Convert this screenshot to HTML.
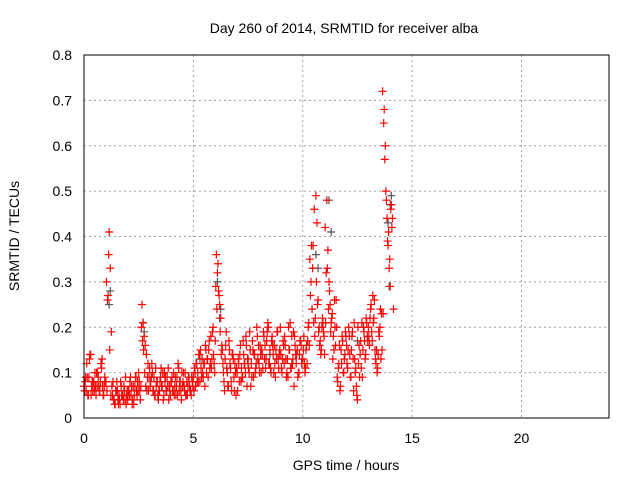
<!DOCTYPE html>
<html><head><meta charset="utf-8"><style>
body{margin:0;background:#fff;}
svg{display:block;font-family:"Liberation Sans",sans-serif;}
</style></head><body>
<svg id="chart" width="640" height="480">
<text x="344" y="33" font-size="14" text-anchor="middle">Day 260 of 2014, SRMTID for receiver alba</text>
<text x="346" y="470" font-size="14" text-anchor="middle">GPS time / hours</text>
<text transform="translate(19,236) rotate(-90)" font-size="14" text-anchor="middle">SRMTID / TECUs</text>
<g id="grid"></g><g id="ticks"></g><g id="gray"></g><g id="red"></g>
<rect x="84" y="55" width="525" height="363" fill="none" stroke="#000" stroke-width="1"/>
</svg>
<script>
const xTicks=[0,5,10,15,20];
const yTicks=[0,0.1,0.2,0.3,0.4,0.5,0.6,0.7,0.8];
const yTickLabels=["0","0.1","0.2","0.3","0.4","0.5","0.6","0.7","0.8"];
const redValuesA=[.07,.08,.06,.09,.05,.13,.14,.07,.06,.08,.10,.05,.07,.09,.06,.08,.11,.07,.05,.09,
.08,.06,.27,.41,.33,.19,.05,.04,.03,.06,.08,.04,.05,.03,.07,.05,.04,.06,.09,.05,
.04,.06,.08,.05,.03,.07,.05,.09,.06,.08,.10,.06,.07,.25,.21,.18,.16,.14,.09,.06,
.11,.08,.12,.06,.09,.05,.07,.08,.04,.06,.09,.07,.10,.05,.08,.06,.09,.11,.07,.05,
.08,.06,.10,.07,.05,.09,.12,.06,.08,.04,.07,.10,.06,.05,.08,.07,.09,.06,.05,.08,
.09,.11,.07,.12,.10,.14,.08,.11,.13,.09,.12,.16,.10,.13,.15,.11,.18,.13,.20,.12,
.17,.36,.32,.28,.25,.22,.16,.12,.08,.13,.19,.10,.07,.15,.11,.06,.14,.09,.12,.05,
.10,.13,.08,.16,.11,.09,.14,.12,.18,.07,.13,.10,.15,.12,.17,.09,.14,.11,.20,.13,
.12,.16,.10,.14,.19,.13,.11,.17,.21,.12,.15,.10,.18,.14,.16,.09,.13,.19,.11,.15,
.14,.10,.17,.12,.16,.09,.13,.20,.15,.11,.18,.13,.07,.16,.12,.15,.10,.14,.17,.12,
.13,.18,.10,.15,.12,.20,.16,.27,.38,.33,.21,.18,.49,.43,.26,.20,.17,.15,.22,.19,
.14,.21,.48,.37,.30,.25,.21,.23,.18,.26,.16,.20,.08,.12,.06,.15,.18,.10,.13,.19,
.16,.11,.20,.14,.09,.18,.13,.21,.10,.07,.04,.12,.09,.17,.21,.15,.19,.13,.22,.18,
.20,.16,.24,.19,.27,.22,.15,.12,.10,.14,.18,.24,.23,.72,.65,.57,.50,.44,.38,.33,
.29,.47,.44,.24];
const redValuesB=[.06,.12,.09,.05,.08,.07,.10,.06,.13,.07,
.30,.36,.05,.08,.03,.06,.04,.05,.07,.03,
.06,.09,.04,.07,.05,.08,.20,.15,.07,.12,
.07,.10,.05,.08,.06,.11,.04,.09,.07,.06,
.09,.05,.07,.11,.06,.08,.10,.05,.07,.09,
.06,.12,.08,.15,.10,.07,.13,.17,.11,.14,
.29,.34,.19,.15,.06,.11,.17,.08,.13,.10,
.06,.14,.09,.12,.16,.11,.07,.15,.10,.18,
.10,.15,.18,.13,.20,.11,.16,.12,.19,.14,
.11,.16,.13,.09,.21,.12,.18,.14,.10,.16,
.15,.11,.17,.35,.24,.46,.30,.19,.14,.21,
.42,.33,.28,.22,.15,.26,.11,.07,.17,.14,
.12,.18,.15,.06,.11,.20,.14,.09,.17,.21,
.18,.25,.21,.13,.11,.20,.15,.68,.48,.41,
.46];
const redValuesC=[.09,.05,.14,.08,.06,.10,.07,.12,.05,.08,
.26,.15,.07,.04,.06,.03,.08,.05,.04,.06,
.05,.07,.03,.09,.06,.04,.17,.10,.06,.09,
.09,.06,.11,.05,.08,.07,.10,.06,.04,.08,
.06,.09,.05,.08,.10,.07,.05,.09,.06,.07,
.10,.08,.14,.09,.12,.15,.09,.12,.19,.10,
.24,.27,.14,.10,.16,.07,.12,.14,.06,.11,
.12,.08,.17,.10,.13,.19,.09,.14,.12,.16,
.14,.11,.16,.19,.12,.17,.10,.15,.13,.20,
.13,.18,.10,.15,.11,.19,.14,.09,.17,.13,
.12,.16,.21,.30,.38,.22,.25,.16,.20,.18,
.32,.24,.19,.13,.20,.09,.16,.12,.10,.18,
.15,.09,.19,.13,.05,.16,.11,.20,.14,.17,
.22,.17,.26,.15,.19,.13,.23,.60,.39,.35,
.42];
const grayTimes=[1.15,1.2,2.7,2.75,6.1,6.2,6.25,10.6,10.7,11.2,11.3,13.9,14.0,14.05,13.95,3.5,5.3,8.5,9.5,12.5,0.4,7.5];
const grayValues=[.25,.28,.21,.19,.30,.22,.24,.36,.33,.48,.41,.43,.47,.49,.29,.09,.13,.14,.12,.17,.08,.12];
const stepA=0.05, stepB=0.1, offB=0.025, offC=0.075;
const X=t=>84+t*(525/24), Y=v=>418-v*(363/0.8);
const NS="http://www.w3.org/2000/svg";
function mk(tag,attrs,parent){const e=document.createElementNS(NS,tag);for(const k in attrs)e.setAttribute(k,attrs[k]);parent.appendChild(e);return e;}
const grid=document.getElementById('grid'),ticks=document.getElementById('ticks');
xTicks.forEach(t=>{
 if(t>0){const g=mk('line',{x1:X(t),x2:X(t),y1:55,y2:418,stroke:'#a0a0a0','stroke-dasharray':'2,3'},grid);
 
 }
 const l=mk('text',{x:X(t),y:443,'font-size':14,'text-anchor':'middle'},ticks);l.textContent=t;
 
 
});
yTicks.forEach((v,i)=>{
 if(v>0&&v<0.8){const g=mk('line',{x1:84,x2:609,y1:Y(v),y2:Y(v),stroke:'#a0a0a0','stroke-dasharray':'2,3'},grid);
 
 }
 const l=mk('text',{x:72,y:Y(v)+5,'font-size':14,'text-anchor':'end'},ticks);l.textContent=yTickLabels[i];
 
 
});
function plus(t,v,color,parent,name){
 const x=X(t),y=Y(v);
 const p=mk('path',{d:`M${x-4} ${y}H${x+4}M${x} ${y-4}V${y+4}`,stroke:color,'stroke-width':1.2,fill:'none'},parent);
 
 
}
const gray=document.getElementById('gray'),red=document.getElementById('red');
grayTimes.forEach((t,i)=>plus(t,grayValues[i],'#555',gray,'gray-point'));
redValuesA.forEach((v,i)=>plus(i*stepA,v,'#ff0000',red,'red-point'));
redValuesB.forEach((v,i)=>plus(offB+i*stepB,v,'#ff0000',red,'red-point'));
redValuesC.forEach((v,i)=>plus(offC+i*stepB,v,'#ff0000',red,'red-point'));
</script>
</body></html>
